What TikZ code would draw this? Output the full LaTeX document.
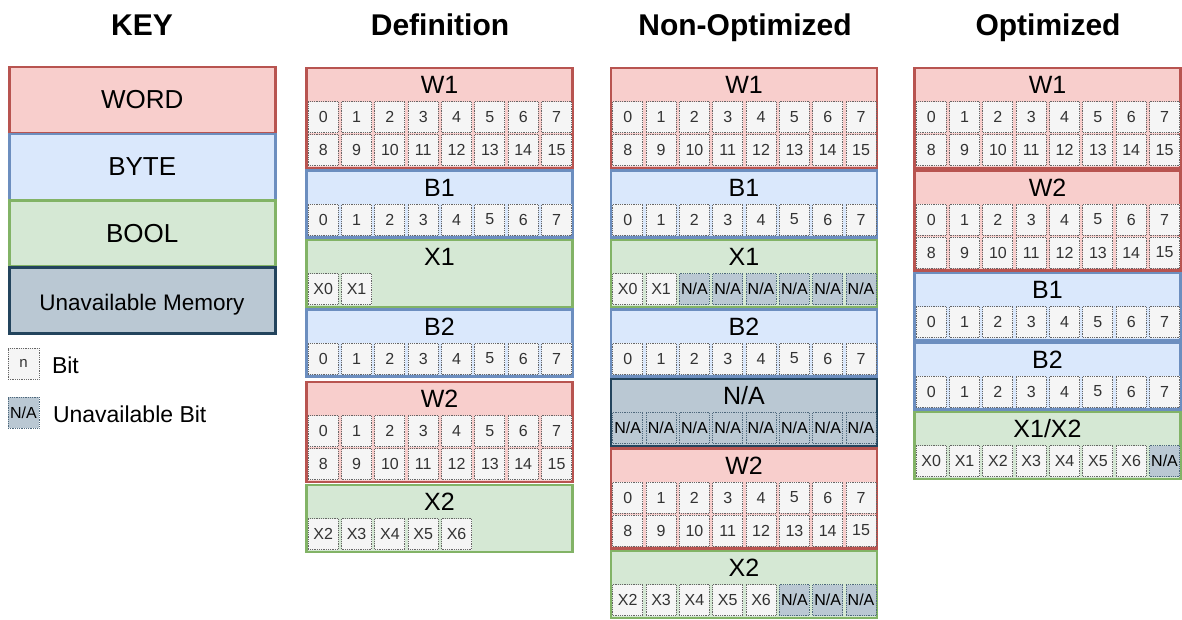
\documentclass[tikz,border=0pt]{standalone}
\usepackage{fontspec}
\setmainfont{Liberation Sans}

\definecolor{wordfill}{HTML}{F8CECC}
\definecolor{wordline}{HTML}{B85450}
\definecolor{bytefill}{HTML}{DAE8FC}
\definecolor{byteline}{HTML}{6C8EBF}
\definecolor{boolfill}{HTML}{D5E8D4}
\definecolor{boolline}{HTML}{82B366}
\definecolor{nafill}{HTML}{BAC8D3}
\definecolor{naline}{HTML}{23445D}
\definecolor{cellfill}{HTML}{F5F5F5}
\definecolor{cellline}{HTML}{666666}
\definecolor{celltext}{HTML}{333333}

\tikzset{
  every node/.style={inner sep=0pt, outer sep=0pt},
  memblk/.style={draw, line width=2.8pt, minimum width=266pt, anchor=north west},
  wordblk/.style={memblk, fill=wordfill, draw=wordline},
  byteblk/.style={memblk, fill=bytefill, draw=byteline},
  boolblk/.style={memblk, fill=boolfill, draw=boolline},
  nablk/.style={memblk, fill=nafill, draw=naline},
  bitcell/.style={draw=cellline, fill=cellfill, line width=1pt,
    dash pattern=on 0.9pt off 0.9pt, minimum width=30pt, minimum height=31pt,
    text=celltext, font=\fontsize{16}{16}\selectfont},
  nacell/.style={bitcell, fill=nafill, draw=naline!80, text=black},
  blocklabel/.style={font=\fontsize{25}{25}\selectfont},
  coltitle/.style={font=\bfseries\fontsize{30}{30}\selectfont, anchor=base},
  keytext/.style={font=\fontsize{26}{26}\selectfont},
  legendtext/.style={font=\fontsize{23}{23}\selectfont, anchor=west},
}

% a coloured memory block with its name in the header strip
\newcommand\memblock[6]{% #1 name, #2 style, #3 left x, #4 top y, #5 height, #6 label
  \node[#2, minimum height=#5pt] (#1) at (#3,#4) {};
  \node[blocklabel] (#1-name) at ({#3+133},{#4+17}) {#6};}
% a row of bit cells, one label per column
\newcommand\bitrow[5]{% #1 prefix, #2 left x, #3 centre y, #4 first column, #5 labels
  \foreach \lab [count=\i from #4] in {#5}
    \node[bitcell] (#1-\i) at ({#2+16.75+33.33*\i},#3) {\lab};}
% a run of unavailable bits
\newcommand\narow[5]{% #1 prefix, #2 left x, #3 centre y, #4 first column, #5 last column
  \foreach \i in {#4,...,#5}
    \node[nacell] (#1-\i) at ({#2+16.75+33.33*\i},#3) {N/A};}

\begin{document}
\begin{tikzpicture}[x=1pt, y=-1pt]
\useasboundingbox (0,0) rectangle (1182,619);

% ---------- column titles ----------
\node[coltitle] (tkey) at (142,35) {KEY};
\node[coltitle] (tdef) at (440,35) {Definition};
\node[coltitle] (tnon) at (745,35) {Non-Optimized};
\node[coltitle] (topt) at (1048,35) {Optimized};

% ---------- key ----------
\node[wordblk, minimum height=66pt] (kword) at (9.25,67) {};
\node[byteblk, minimum height=66pt] (kbyte) at (9.25,134) {};
\node[boolblk, minimum height=66pt] (kbool) at (9.25,200.5) {};
\node[nablk,   minimum height=66pt] (kna)   at (9.25,267.5) {};
\node[keytext] at (kword.center) {WORD};
\node[keytext] at (kbyte.center) {BYTE};
\node[keytext] at (kbool.center) {BOOL};
\node[font=\fontsize{22.5}{22.5}\selectfont, anchor=base] at (142,310) {Unavailable Memory};

\node[bitcell, minimum width=31pt, font=\fontsize{15}{15}\selectfont] (kbit) at (23.5,363.5) {n};
\node[legendtext] (kbittxt) at (52,365) {Bit};
\node[nacell, minimum width=31pt] (knabit) at (23.5,412.5) {N/A};
\node[legendtext] (knatxt) at (53,414) {Unavailable Bit};

% ---------- definition ----------
\def\L{306.5}
\memblock{dw1}{wordblk}{\L}{68}{100}{W1}
\bitrow{dw1a}{\L}{117}{0}{0,1,2,3,4,5,6,7}
\bitrow{dw1b}{\L}{150}{0}{8,9,10,11,12,13,14,15}
\memblock{db1}{byteblk}{\L}{170.5}{67}{B1}
\bitrow{db1a}{\L}{219.5}{0}{0,1,2,3,4,5,6,7}
\memblock{dx1}{boolblk}{\L}{240}{67}{X1}
\bitrow{dx1a}{\L}{289}{0}{X0,X1}
\memblock{db2}{byteblk}{\L}{309.5}{67}{B2}
\bitrow{db2a}{\L}{358.5}{0}{0,1,2,3,4,5,6,7}
\memblock{dw2}{wordblk}{\L}{382}{100}{W2}
\bitrow{dw2a}{\L}{431}{0}{0,1,2,3,4,5,6,7}
\bitrow{dw2b}{\L}{464}{0}{8,9,10,11,12,13,14,15}
\memblock{dx2}{boolblk}{\L}{485}{67}{X2}
\bitrow{dx2a}{\L}{534}{0}{X2,X3,X4,X5,X6}

% ---------- non-optimized ----------
\def\L{611}
\memblock{nw1}{wordblk}{\L}{68}{100}{W1}
\bitrow{nw1a}{\L}{117}{0}{0,1,2,3,4,5,6,7}
\bitrow{nw1b}{\L}{150}{0}{8,9,10,11,12,13,14,15}
\memblock{nb1}{byteblk}{\L}{170.5}{67}{B1}
\bitrow{nb1a}{\L}{219.5}{0}{0,1,2,3,4,5,6,7}
\memblock{nx1}{boolblk}{\L}{240}{67}{X1}
\bitrow{nx1a}{\L}{289}{0}{X0,X1}
\narow{nx1n}{\L}{289}{2}{7}
\memblock{nb2}{byteblk}{\L}{309.5}{67}{B2}
\bitrow{nb2a}{\L}{358.5}{0}{0,1,2,3,4,5,6,7}
\memblock{nna}{nablk}{\L}{379}{67}{N/A}
\narow{nnaa}{\L}{428}{0}{7}
\memblock{nw2}{wordblk}{\L}{448.5}{100}{W2}
\bitrow{nw2a}{\L}{497.5}{0}{0,1,2,3,4,5,6,7}
\bitrow{nw2b}{\L}{530.5}{0}{8,9,10,11,12,13,14,15}
\memblock{nx2}{boolblk}{\L}{551}{67}{X2}
\bitrow{nx2a}{\L}{600}{0}{X2,X3,X4,X5,X6}
\narow{nx2n}{\L}{600}{5}{7}

% ---------- optimized ----------
\def\L{914.5}
\memblock{ow1}{wordblk}{\L}{68}{100}{W1}
\bitrow{ow1a}{\L}{117}{0}{0,1,2,3,4,5,6,7}
\bitrow{ow1b}{\L}{150}{0}{8,9,10,11,12,13,14,15}
\memblock{ow2}{wordblk}{\L}{170.5}{100}{W2}
\bitrow{ow2a}{\L}{219.5}{0}{0,1,2,3,4,5,6,7}
\bitrow{ow2b}{\L}{252.5}{0}{8,9,10,11,12,13,14,15}
\memblock{ob1}{byteblk}{\L}{273}{67}{B1}
\bitrow{ob1a}{\L}{322}{0}{0,1,2,3,4,5,6,7}
\memblock{ob2}{byteblk}{\L}{342.5}{67}{B2}
\bitrow{ob2a}{\L}{391.5}{0}{0,1,2,3,4,5,6,7}
\memblock{ox}{boolblk}{\L}{412}{67}{X1/X2}
\bitrow{oxa}{\L}{461}{0}{X0,X1,X2,X3,X4,X5,X6}
\narow{oxn}{\L}{461}{7}{7}
\end{tikzpicture}
\end{document}
